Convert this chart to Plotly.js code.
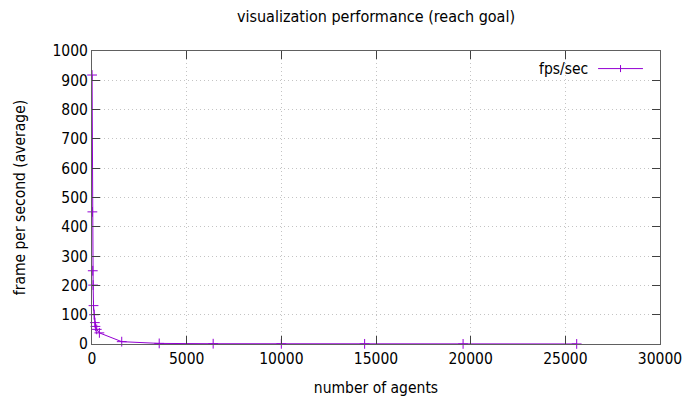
<!DOCTYPE html>
<html>
<head>
<meta charset="utf-8">
<script src="https://cdn.plot.ly/plotly-3.0.1.min.js"></script>
<style>html,body{margin:0;padding:0;background:#fff;}#chart{width:686px;height:402px;}</style>
</head>
<body>
<div id="chart"></div>
<script>
// Data
const agents = [5, 20, 40, 60, 80, 110, 150, 180, 250, 390, 1570, 3550, 6400, 10000, 14400, 19600, 25600];
const fps    = [918, 451, 250, 201, 131, 100, 73, 60, 50, 38, 8, 2, 1, 0.6, 0.4, 0.3, 0.2];
const seriesName = 'fps/sec';
const xTicks = [0, 5000, 10000, 15000, 20000, 25000, 30000];
const yTicks = [0, 100, 200, 300, 400, 500, 600, 700, 800, 900, 1000];

const purple = '#9400d3';
const font = {family: 'DejaVu Sans Condensed, DejaVu Sans, sans-serif', size: 15.5, color: '#000'};
const titleFont = Object.assign({}, font, {size: 16});

const trace = {
  x: agents, y: fps, type: 'scatter', mode: 'lines+markers', name: seriesName,
  line: {color: purple, width: 1},
  marker: {symbol: 'cross-thin', size: 7, color: purple, line: {color: purple, width: 1}},
  showlegend: false, cliponaxis: false
};

const axisCommon = {
  showline: true, linecolor: '#606060', linewidth: 1, mirror: 'allticks',
  ticks: 'inside', ticklen: 8, tickcolor: '#404040', tickwidth: 1,
  showgrid: true, gridcolor: '#c4c4c4', griddash: '1px,3px', gridwidth: 1,
  zeroline: false, tickfont: font
};

const layout = {
  width: 686, height: 402,
  margin: {l: 92, r: 26, t: 51, b: 58},
  paper_bgcolor: '#fff', plot_bgcolor: '#fff',
  font: font,
  title: {text: 'visualization performance (reach goal)', font: titleFont, xref: 'paper', x: 0.5, xanchor: 'center', y: 1, yanchor: 'top', yref: 'container', pad: {t: 11}},
  xaxis: Object.assign({}, axisCommon, {
    range: [0, 30000], tickvals: xTicks, ticktext: xTicks.map(String),
    title: {text: 'number of agents', font: font, standoff: 15}
  }),
  yaxis: Object.assign({}, axisCommon, {
    range: [0, 1000], tickvals: yTicks, ticktext: yTicks.map(String),
    title: {text: 'frame per second (average)', font: font, standoff: 22}
  }),
  annotations: [{
    xref: 'paper', yref: 'paper', x: 0.876, y: 0.94, xanchor: 'right', yanchor: 'middle',
    text: seriesName, showarrow: false, font: font
  }],
  shapes: [
    {type: 'line', xref: 'paper', yref: 'paper', x0: 0.891, x1: 0.970, y0: 0.94, y1: 0.94, line: {color: purple, width: 1}},
    {type: 'line', xref: 'paper', yref: 'paper', x0: 0.9305, x1: 0.9305, y0: 0.928, y1: 0.952, line: {color: purple, width: 1}}
  ]
};

Plotly.newPlot('chart', [trace], layout, {displayModeBar: false, staticPlot: true});
</script>
</body>
</html>
